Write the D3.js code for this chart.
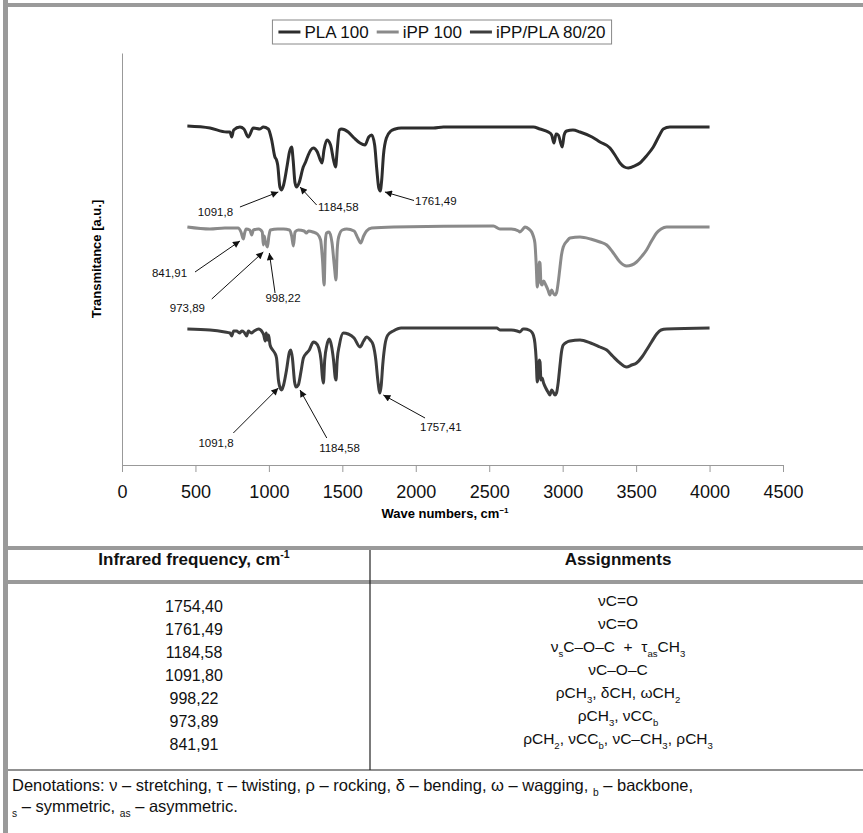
<!DOCTYPE html>
<html>
<head>
<meta charset="utf-8">
<script src="https://cdn.jsdelivr.net/npm/d3@7"></script>
<style>
  body { margin: 0; background: #fff; }
  svg { display: block; font-family: Arial, "Liberation Sans", sans-serif; }
</style>
</head>
<body>
<script>
// series names (legend order)
const seriesNames = ["PLA 100", "iPP 100", "iPP/PLA 80/20"];

// [wave number cm-1, transmittance a.u. (offset traces)]
const pla100 = [
  [445,33.9],[599,33.7],[713,33.3],[735,33.3],[747,32.8],[760,33.5],[803,33.8],[830,33.6],[860,32.8],
  [894,33.7],[939,33.6],[962,33.8],[996,33.6],[1019,32.5],[1041,30.8],[1052,30.5],[1060,30.0],
  [1075,27.8],[1087,27.5],[1100,28.0],[1125,30.0],[1140,31.3],[1155,31.8],[1165,30.5],[1178,28.2],
  [1189,27.8],[1205,28.2],[1234,29.8],[1250,30.3],[1268,31.0],[1285,31.5],[1302,31.7],[1330,31.3],
  [1350,30.5],[1362,30.2],[1375,31.5],[1395,32.5],[1420,32.0],[1440,30.5],[1454,29.8],[1465,31.5],
  [1480,33.5],[1495,33.6],[1540,33.3],[1580,32.7],[1620,32.2],[1654,32.0],[1680,32.8],[1700,33.0],
  [1720,32.0],[1735,29.5],[1748,27.7],[1758,27.4],[1768,28.5],[1780,31.0],[1800,32.7],[1830,33.4],
  [1860,33.6],[1900,33.7],[2120,33.7],[2188,33.8],[2800,33.8],[2845,33.6],[2902,33.3],[2925,33.0],
  [2941,32.2],[2955,33.1],[2970,33.0],[2997,31.8],[3010,33.0],[3027,33.4],[3070,33.5],[3118,33.3],
  [3200,32.8],[3254,32.3],[3322,31.7],[3360,30.9],[3390,30.2],[3420,29.8],[3447,29.7],[3490,29.9],
  [3526,30.2],[3570,30.9],[3617,31.8],[3660,33.0],[3685,33.6],[3730,33.8],[4000,33.8]
];
const ipp100 = [
  [445,23.8],[599,23.6],[700,23.7],[790,23.7],[810,23.3],[826,22.6],[835,23.2],[845,23.6],[870,23.5],
  [883,23.0],[895,23.5],[930,23.6],[955,23.3],[962,22.0],[968,22.9],[975,22.4],[990,21.8],[1000,22.9],
  [1010,23.5],[1060,23.6],[1100,23.6],[1140,23.5],[1155,22.9],[1167,21.9],[1178,23.3],[1200,23.5],
  [1240,23.4],[1255,23.2],[1270,23.4],[1300,23.3],[1330,23.1],[1352,22.5],[1365,20.5],[1376,18.0],
  [1385,22.5],[1393,23.2],[1410,23.3],[1430,22.2],[1445,20.0],[1457,18.5],[1465,21.5],[1475,22.8],
  [1500,23.5],[1530,23.6],[1580,23.4],[1605,22.7],[1625,22.2],[1645,22.9],[1665,23.4],[1700,23.7],
  [1850,23.8],[2528,23.9],[2573,23.6],[2650,23.6],[2700,23.4],[2709,23.3],[2730,23.6],[2743,23.8],
  [2770,23.6],[2789,23.3],[2800,22.9],[2811,22.2],[2820,20.0],[2827,17.8],[2835,19.0],[2840,20.3],
  [2846,20.2],[2852,18.2],[2860,18.0],[2870,18.4],[2885,18.0],[2900,17.5],[2913,17.0],[2925,17.5],
  [2935,17.2],[2948,17.0],[2958,17.2],[2970,18.3],[2982,19.8],[2992,21.0],[3004,21.8],[3030,22.4],
  [3050,22.7],[3118,22.8],[3190,22.6],[3254,22.3],[3300,22.0],[3340,21.3],[3390,20.3],[3415,20.0],
  [3435,19.9],[3470,20.0],[3503,20.3],[3540,20.9],[3571,21.5],[3605,22.4],[3639,23.2],[3670,23.6],
  [3708,23.8],[4000,23.8]
];
const blend8020 = [
  [445,13.6],[599,13.5],[700,13.3],[735,13.2],[747,12.9],[760,13.4],[780,13.4],[800,13.2],[815,13.4],
  [830,13.3],[849,12.9],[860,13.4],[880,13.2],[900,13.4],[930,13.6],[955,13.3],[965,13.0],[975,12.4],
  [982,13.2],[990,12.5],[998,13.0],[1008,12.0],[1026,11.5],[1040,11.2],[1052,10.7],[1065,8.5],
  [1080,7.6],[1087,7.5],[1100,8.0],[1120,9.5],[1140,11.3],[1149,11.5],[1160,10.7],[1175,8.3],
  [1185,7.8],[1200,8.0],[1218,9.3],[1235,10.7],[1257,11.2],[1275,11.5],[1290,12.0],[1302,12.3],
  [1320,12.2],[1340,11.7],[1355,10.5],[1365,8.7],[1371,8.2],[1380,10.5],[1395,12.0],[1411,12.6],
  [1425,12.0],[1440,10.5],[1452,8.7],[1457,8.5],[1465,10.5],[1480,12.0],[1507,13.2],[1540,13.1],
  [1580,12.7],[1620,11.8],[1645,12.4],[1665,12.8],[1690,12.5],[1710,12.0],[1728,10.5],[1740,8.7],
  [1750,7.5],[1756,7.2],[1765,8.0],[1775,10.0],[1790,12.0],[1810,13.0],[1847,13.4],[1900,13.7],
  [2551,13.7],[2573,13.5],[2650,13.5],[2690,13.4],[2709,13.3],[2730,13.6],[2743,13.6],[2770,13.5],
  [2789,13.3],[2800,13.0],[2811,12.2],[2820,10.5],[2827,8.3],[2835,9.3],[2840,10.5],[2846,10.3],
  [2852,8.5],[2860,8.7],[2870,8.2],[2885,7.7],[2900,7.3],[2913,7.0],[2925,7.5],[2935,7.3],[2948,7.0],
  [2958,7.2],[2970,8.3],[2982,10.0],[2992,11.3],[3004,12.0],[3030,12.3],[3050,12.4],[3118,12.5],
  [3190,12.2],[3254,11.8],[3300,11.5],[3340,10.9],[3390,10.2],[3435,9.8],[3470,10.0],[3503,10.2],
  [3540,10.8],[3571,11.5],[3605,12.3],[3640,13.1],[3670,13.5],[3708,13.6],[4000,13.7]
];

const xTicks = [0, 500, 1000, 1500, 2000, 2500, 3000, 3500, 4000, 4500];

// peak labels: text, text point, arrow tail, arrow tip (data units)
const peakLabels = [
  { t: "1091,8",  at: [756, 25.3],  a: "end",    from: [803, 25.8],  to: [1064, 27.3] },
  { t: "1184,58", at: [1334, 25.8], a: "start",  from: [1325, 26.0], to: [1212, 27.8] },
  { t: "1761,49", at: [1995, 26.4], a: "start",  from: [1988, 26.45], to: [1790, 27.3] },
  { t: "841,91",  at: [443, 19.2],  a: "end",    from: [497, 19.3],  to: [803, 22.4] },
  { t: "973,89",  at: [565, 15.7],  a: "end",    from: [611, 16.6],  to: [962, 21.3] },
  { t: "998,22",  at: [1096, 16.7], a: "middle", from: [1042, 17.2], to: [1003, 21.2] },
  { t: "1091,8",  at: [760, 2.2],   a: "end",    from: [758, 3.2],   to: [1064, 7.7] },
  { t: "1184,58", at: [1481, 1.7],  a: "middle", from: [1394, 2.7],  to: [1212, 7.5] },
  { t: "1757,41", at: [2029, 3.8],  a: "start",  from: [2063, 4.7],  to: [1779, 7.0] }
];

// table
const tableHead = ["Infrared frequency, cm^{-1}", "Assignments"];
const irFreq = ["1754,40", "1761,49", "1184,58", "1091,80", "998,22", "973,89", "841,91"];
const irAssign = [
  "νC=O",
  "νC=O",
  "ν_{s}C–O–C  +  τ_{as}CH_{3}",
  "νC–O–C",
  "ρCH_{3}, δCH, ωCH_{2}",
  "ρCH_{3}, νCC_{b}",
  "ρCH_{2}, νCC_{b}, νC–CH_{3}, ρCH_{3}"
];
const denotations = [
  "Denotations: ν – stretching, τ – twisting, ρ – rocking, δ – bending, ω – wagging, _{b} – backbone,",
  "_{s} – symmetric, _{as} – asymmetric."
];

const W = 863, H = 833;
const colors = ["#2d2d2d", "#8a8a8a", "#3d3d3d"];

const svg = d3.select("body").append("svg")
  .attr("width", W).attr("height", H);

svg.append("rect").attr("width", W).attr("height", H).attr("fill", "#fff");

// text with _{sub} and ^{sup}
function rich(sel, str, fs) {
  const parts = str.split(/([_^]\{[^}]*\})/).filter(p => p.length);
  let shift = 0;
  parts.forEach(p => {
    const ts = sel.append("tspan");
    if (p[0] === "_" || p[0] === "^") {
      const s = p[0] === "_" ? 0.32 * fs : -0.4 * fs;
      ts.attr("dy", s - shift).attr("font-size", fs * 0.62).text(p.slice(2, -1));
      shift = s;
    } else {
      ts.attr("dy", -shift).text(p);
      shift = 0;
    }
  });
}

// ---- chart ----
const x = d3.scaleLinear().domain([0, 4500]).range([122, 783]);
const y = d3.scaleLinear().domain([0, 41.2]).range([465, 53]);

const xAxis = svg.append("g")
  .attr("transform", `translate(0,${y(0)})`)
  .call(d3.axisBottom(x).tickValues(xTicks).tickFormat(d3.format("d")).tickSize(7).tickSizeOuter(0));
xAxis.select(".domain").attr("stroke", "#999");
xAxis.selectAll(".tick line").attr("stroke", "#999");
xAxis.selectAll(".tick text")
  .attr("y", 27).attr("dy", "0.35em")
  .attr("font-size", 18).attr("font-family", "Arial, 'Liberation Sans', sans-serif")
  .attr("fill", "#111");

const yAxis = svg.append("g")
  .attr("transform", `translate(${x(0)},0)`)
  .call(d3.axisLeft(y).tickValues([]).tickSizeOuter(0));
yAxis.select(".domain").attr("stroke", "#999");

svg.append("text")
  .attr("x", 445).attr("y", 518).attr("dy", "0.35em")
  .attr("text-anchor", "middle").attr("font-size", 13).attr("font-weight", "bold")
  .call(s => rich(s, "Wave numbers, cm^{−1}", 13));

svg.append("text")
  .attr("transform", `translate(96,${(y(0) + y(41.2)) / 2}) rotate(-90)`)
  .attr("dy", "0.35em")
  .attr("text-anchor", "middle").attr("font-size", 13).attr("font-weight", "bold")
  .text("Transmitance [a.u.]");

const line = d3.line()
  .x(d => x(d[0])).y(d => y(d[1]))
  .curve(d3.curveMonotoneX);

[pla100, ipp100, blend8020].forEach((s, i) => {
  svg.append("path")
    .datum(s)
    .attr("fill", "none")
    .attr("stroke", colors[i])
    .attr("stroke-width", 3)
    .attr("stroke-linejoin", "round")
    .attr("d", line);
});

// arrows
svg.append("defs").append("marker")
  .attr("id", "ah").attr("viewBox", "0 0 10 10")
  .attr("refX", 10).attr("refY", 5)
  .attr("markerWidth", 10).attr("markerHeight", 7)
  .attr("markerUnits", "userSpaceOnUse")
  .attr("orient", "auto")
  .append("path").attr("d", "M0,0L10,5L0,10z").attr("fill", "#111");

const notes = svg.append("g");
notes.selectAll("line").data(peakLabels).join("line")
  .attr("x1", d => x(d.from[0])).attr("y1", d => y(d.from[1]))
  .attr("x2", d => x(d.to[0])).attr("y2", d => y(d.to[1]))
  .attr("stroke", "#111").attr("stroke-width", 1)
  .attr("marker-end", "url(#ah)");
notes.selectAll("text").data(peakLabels).join("text")
  .attr("x", d => x(d.at[0])).attr("y", d => y(d.at[1]))
  .attr("dy", "0.35em")
  .attr("text-anchor", d => d.a)
  .attr("font-size", 11.5).attr("fill", "#111")
  .text(d => d.t);

// legend
const lg = svg.append("g");
const lgItems = lg.selectAll("g").data(seriesNames).join("g");
lgItems.append("line")
  .attr("x1", 0).attr("x2", 22).attr("y1", 0).attr("y2", 0)
  .attr("stroke", (d, i) => colors[i]).attr("stroke-width", 3);
lgItems.append("text")
  .attr("x", 26).attr("dy", "0.35em").attr("font-size", 17).attr("fill", "#111")
  .text(d => d);
let cx = 0;
lgItems.each(function () {
  d3.select(this).attr("transform", `translate(${cx},0)`);
  cx += 26 + d3.select(this).select("text").node().getComputedTextLength() + 8;
});
const lgW = cx - 8;
const lgX = 442 - lgW / 2;
lg.attr("transform", `translate(${lgX},32)`);
svg.insert("rect", "g")
  .attr("x", lgX - 6).attr("y", 20).attr("width", lgW + 12).attr("height", 24)
  .attr("fill", "#fff").attr("stroke", "#888");

// ---- frame & table ----
const gray = "#9a9a9a";
svg.append("rect").attr("x", 3).attr("y", 0).attr("width", 5).attr("height", H).attr("fill", gray);
svg.append("rect").attr("x", 3).attr("y", 3).attr("width", W).attr("height", 4).attr("fill", gray);
svg.append("rect").attr("x", 3).attr("y", 546).attr("width", W).attr("height", 4).attr("fill", gray);
svg.append("rect").attr("x", 3).attr("y", 580).attr("width", W).attr("height", 4).attr("fill", gray);
svg.append("line").attr("x1", 8).attr("x2", W).attr("y1", 770).attr("y2", 770)
  .attr("stroke", "#222").attr("stroke-width", 1.2);
svg.append("line").attr("x1", 370).attr("x2", 370).attr("y1", 550).attr("y2", 770)
  .attr("stroke", "#222").attr("stroke-width", 1.2);

const colX = [194, 618];
tableHead.forEach((h, i) => {
  svg.append("text").attr("x", colX[i]).attr("y", 565).attr("dy", "0.35em")
    .attr("text-anchor", "middle").attr("font-size", 17).attr("font-weight", "bold")
    .attr("fill", "#111")
    .call(s => rich(s, h, 17));
});

const rowY = d3.scalePoint().domain(d3.range(irFreq.length)).range([606, 744]);
irFreq.forEach((f, i) => {
  svg.append("text").attr("x", colX[0]).attr("y", rowY(i)).attr("dy", "0.35em")
    .attr("text-anchor", "middle").attr("font-size", 16).attr("fill", "#111").text(f);
  svg.append("text").attr("x", colX[1]).attr("y", rowY(i)).attr("dy", "0.35em")
    .attr("text-anchor", "middle").attr("font-size", 15.5).attr("fill", "#111")
    .attr("xml:space", "preserve")
    .call(s => rich(s, irAssign[i], 15.5));
});

denotations.forEach((t, i) => {
  svg.append("text").attr("x", 12).attr("y", 791 + i * 21).attr("dy", "0.35em")
    .attr("font-size", 16.5).attr("fill", "#111")
    .call(s => rich(s, t, 16.5));
});
</script>
</body>
</html>
